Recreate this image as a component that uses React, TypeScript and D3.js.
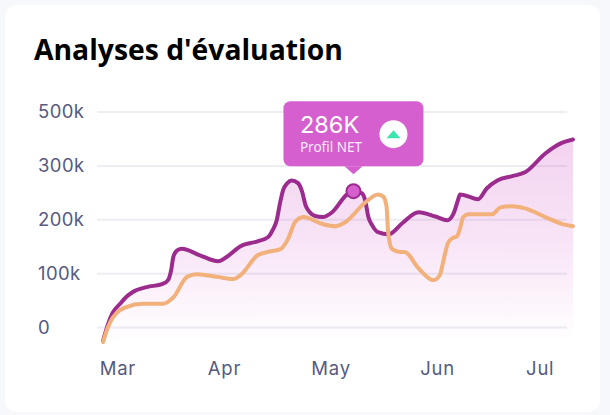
import React from "react";
import * as d3 from "d3";

// x values are in months counted from the "Mar" label, y values in axis units (k)
const months = ["Mar", "Apr", "May", "Jun", "Jul"];
const yTickValues = [0, 100, 200, 300, 400];
const yTickLabels = ["0", "100k", "200k", "300k", "500k"];

const profitX = [-0.14, -0.095, -0.05, 0.02, 0.08, 0.14, 0.27, 0.42, 0.47, 0.5, 0.52, 0.556, 0.6, 0.77, 0.94, 1.02, 1.15, 1.31, 1.41, 1.455, 1.49, 1.52, 1.55, 1.59, 1.63, 1.69, 1.73, 1.76, 1.8, 1.85, 1.92, 2.01, 2.15, 2.21, 2.29, 2.32, 2.35, 2.385, 2.44, 2.54, 2.67, 2.82, 2.98, 3.09, 3.15, 3.19, 3.21, 3.26, 3.38, 3.46, 3.56, 3.7, 3.82, 4.01, 4.17, 4.27];
const profitY = [-25, 5, 27, 44, 57, 66, 75, 81, 88, 107, 131, 143, 146, 134, 123, 131, 151, 160, 168, 182, 199, 230, 255, 268, 273, 268, 251, 227, 214, 207, 205, 214, 247, 253, 249, 236, 205, 190, 177, 173, 194, 214, 206, 199, 212, 236, 247, 245, 238, 258, 273, 281, 288, 323, 343, 349];

const costX = [-0.14, -0.095, -0.05, 0.08, 0.23, 0.42, 0.52, 0.65, 0.74, 0.93, 1.08, 1.15, 1.31, 1.4, 1.52, 1.6, 1.66, 1.74, 1.92, 2.04, 2.13, 2.32, 2.44, 2.49, 2.52, 2.535, 2.55, 2.57, 2.65, 2.69, 2.82, 2.96, 3.02, 3.05, 3.07, 3.1, 3.14, 3.18, 3.21, 3.24, 3.29, 3.51, 3.59, 3.7, 3.82, 4.01, 4.17, 4.27];
const costY = [-27, 0, 18, 38, 44, 44, 56, 94, 99, 94, 90, 97, 134, 140, 145, 166, 195, 205, 192, 188, 195, 232, 247, 243, 225, 178, 158, 146, 140, 140, 110, 88, 97, 120, 138, 158, 166, 169, 184, 205, 210, 210, 223, 225, 221, 205, 192, 188];

const markerIndex = 33;

const WIDTH = 610;
const HEIGHT = 415;
const AXIS_FONT = "Inter, sans-serif";

const App = () => {
  const xScale = d3.scaleLinear().domain([-0.14, 4.27]).range([103, 573]);
  const yScale = d3.scaleLinear().domain([0, 400]).range([327.5, 112]);
  const fillBottom = yScale(-25);

  const profit = profitX.map((x, i) => [x, profitY[i]] as [number, number]);
  const cost = costX.map((x, i) => [x, costY[i]] as [number, number]);

  const line = d3.line<[number, number]>()
    .x((d) => xScale(d[0]))
    .y((d) => yScale(d[1]))
    .curve(d3.curveMonotoneX);

  const area = d3.area<[number, number]>()
    .x((d) => xScale(d[0]))
    .y0(fillBottom)
    .y1((d) => yScale(d[1]))
    .curve(d3.curveMonotoneX);

  const markerX = xScale(profit[markerIndex][0]);
  const markerY = yScale(profit[markerIndex][1]);

  return (
    <svg
      width={WIDTH}
      height={HEIGHT}
      style={{ position: "absolute", left: 0, top: 0, background: "#f7f8fb" }}
    >
      <defs>
        <linearGradient id="profitFill" gradientUnits="userSpaceOnUse" x1={0} x2={0} y1={yScale(349)} y2={fillBottom}>
          <stop offset="0%" stopColor="#f3d3f0" />
          <stop offset="50%" stopColor="#f8e4f6" />
          <stop offset="100%" stopColor="#ffffff" />
        </linearGradient>
      </defs>

      {/* card */}
      <rect x={5} y={5} width={595} height={407} rx={12} fill="#ffffff" />

      <text x={34} y={60} fontFamily="'Open Sans', sans-serif" fontWeight={700} fontSize={28.3} fill="#000000">
        Analyses d'évaluation
      </text>

      {/* area */}
      <path d={area(profit) || ""} fill="url(#profitFill)" />

      {/* grid and y labels */}
      {yTickValues.map((tick, i) => (
        <g key={tick} transform={`translate(0,${yScale(tick)})`}>
          <line x1={97} x2={567} stroke="#8a80a8" strokeOpacity={0.14} strokeWidth={2} />
          <text x={38} y={6} fontFamily={AXIS_FONT} fontSize={18.5} letterSpacing={0.4} fill="#565a80">
            {yTickLabels[i]}
          </text>
        </g>
      ))}

      {/* x labels */}
      {months.map((month, i) => (
        <text
          key={month}
          x={i === 4 ? xScale(i) - 4 : xScale(i)}
          y={375}
          textAnchor="middle"
          fontFamily={AXIS_FONT}
          fontSize={18.5}
          letterSpacing={0.8}
          fill="#565a80"
        >
          {month}
        </text>
      ))}

      {/* series */}
      <path d={line(profit) || ""} fill="none" stroke="#9b2c8e" strokeWidth={4} strokeLinecap="round" />
      <path d={line(cost) || ""} fill="none" stroke="#f2b07a" strokeWidth={4} strokeLinecap="round" />

      {/* tooltip */}
      <g transform={`translate(${markerX},${markerY})`}>
        <circle r={7} fill="#d65fd0" stroke="#9b2c8e" strokeWidth={2} />
        <g transform="translate(0,-90)">
          <rect x={-70} y={0} width={140} height={65} rx={7} fill="#d65fd0" />
          <path d={d3.line()([[-9, 65], [0, 73], [9, 65]]) || ""} fill="#d65fd0" />
          <text x={-53.5} y={32} fontFamily="Inter, sans-serif" fontSize={23.5} fill="#ffffff">
            286K
          </text>
          <text x={-53.5} y={51} fontFamily="'Noto Sans', sans-serif" fontSize={13.5} fill="#ffffff" fillOpacity={0.9}>
            Profil NET
          </text>
          <circle cx={40} cy={33} r={14} fill="#ffffff" />
          <path d={d3.line()([[33, 37], [40, 29], [47, 37]]) || ""} fill="#3be5b0" />
        </g>
      </g>
    </svg>
  );
};

export default App;
